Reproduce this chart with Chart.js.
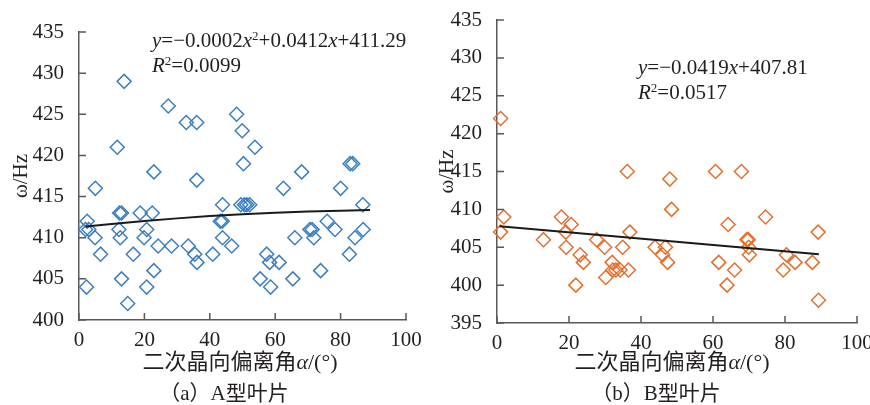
<!DOCTYPE html>
<html lang="zh-CN">
<head>
<meta charset="UTF-8">
<title>二次晶向偏离角与频率</title>
<script src="https://cdn.jsdelivr.net/npm/chart.js@4.4.0/dist/chart.umd.min.js"></script>
<style>
  body { margin:0; background:#fff; width:870px; height:405px; position:relative; overflow:hidden;
         font-family:"Liberation Serif","Noto Sans CJK SC",serif; color:#231f20; }
  canvas { position:absolute; top:0; }
  .note { position:absolute; font-size:21px; line-height:24px; white-space:nowrap; }
  .note sup { font-size:13px; vertical-align:7px; line-height:0; }
  .cap { position:absolute; font-size:21px; line-height:24px; white-space:nowrap; transform:translateX(-50%); }
  .xt { font-size:22px; }
</style>
</head>
<body>
  <canvas id="chartA" width="435" height="405" style="left:0"></canvas>
  <canvas id="chartB" width="435" height="405" style="left:435px"></canvas>

  <div class="note" style="left:152px;top:28px"><i>y</i>=−0.0002<i>x</i><sup>2</sup>+0.0412<i>x</i>+411.29</div>
  <div class="note" style="left:152px;top:53px"><i>R</i><sup>2</sup>=0.0099</div>
  <div class="note" style="left:638px;top:55px"><i>y</i>=−0.0419<i>x</i>+407.81</div>
  <div class="note" style="left:638px;top:80px"><i>R</i><sup>2</sup>=0.0517</div>

  <div class="cap xt" style="left:240px;top:350px">二次晶向偏离角<i>α</i>/(°)</div>
  <div class="cap" style="left:224px;top:381px">（a）A型叶片</div>
  <div class="cap xt" style="left:672px;top:350px">二次晶向偏离角<i>α</i>/(°)</div>
  <div class="cap" style="left:656px;top:381px">（b）B型叶片</div>

<script>
// A型叶片：偏离角 / 频率
const aAngle = [2.3, 2.5, 2.0, 3.0, 4.9, 5, 6.6, 11.7, 12.4, 13, 12.2, 12.6, 13, 13.8, 14.9, 16.6, 18.7,
  20.7, 19.9, 20.7, 22.4, 22.9, 22.9, 24.2, 27.3, 28.3, 32.8, 33.4, 35.4, 36.1, 36, 36, 40.9, 43.9,
  43.2, 43.8, 43.9, 46.7, 48.2, 49.9, 50.3, 49.5, 50.6, 51.3, 52.2, 53.8, 55.4, 57.4, 58.3, 58.6,
  61.2, 62.5, 65.4, 66, 68.1, 70.6, 71.3, 71.8, 73.9, 75.9, 78.3, 80, 82.7, 82.9, 83.7, 84.4, 86.8, 86.9];
const aFreq = [404, 412, 411, 411, 410, 416, 408, 421, 413, 413, 411, 410, 405, 429, 402, 408, 413,
  411, 410, 404, 413, 406, 418, 409, 426, 409, 424, 409, 408, 407, 424, 417, 408, 414,
  412, 412, 410, 409, 425, 423, 419, 414, 414, 414, 414, 421, 405, 408, 407, 404,
  407, 416, 405, 410, 418, 411, 411, 410, 406, 412, 411, 416, 408, 419, 419, 410, 414, 411];
// A型趋势线
const aFitX = [2, 10, 20, 30, 40, 50, 60, 70, 80, 89];
const aFitY = [411.37, 411.68, 412.03, 412.35, 412.63, 412.85, 413.04, 413.19, 413.29, 413.36];

// B型叶片
const bAngle = [1, 1, 1.9, 12.9, 17.9, 19.1, 19.2, 20.6, 21.9, 23.1, 24, 27.7, 29.9, 30.2, 32, 32.2,
  33, 34.2, 34.9, 36.2, 36.5, 36.9, 43.9, 46, 46.8, 47.4, 48, 48.5, 60.7, 61.6, 63.9, 64.2, 66,
  67.9, 69.4, 69.8, 69.9, 70.1, 74.6, 79.5, 80.4, 82.8, 87.6, 89.2, 89.3];
const bFreq = [422, 407, 409, 406, 409, 407, 405, 408, 400, 404, 403, 406, 405, 401, 403, 402,
  402, 402, 405, 415, 402, 407, 405, 404, 405, 403, 414, 410, 415, 403, 400, 408, 402,
  415, 406, 406, 405, 404, 409, 402, 404, 403, 403, 407, 398];
const bFitX = [0.7, 89.4];
const bFitY = [407.78, 404.06];

const xTicks = [0, 20, 40, 60, 80, 100];

const textColor = '#231f20';
const axisColor = '#595959';
const tickFont = { family: 'Liberation Serif', size: 21 };

// 刻度线朝内
const innerTicks = {
  id: 'innerTicks',
  afterDraw(chart) {
    const { ctx, chartArea: { left, bottom }, scales: { x, y } } = chart;
    ctx.save();
    ctx.strokeStyle = axisColor;
    ctx.lineWidth = 1.5;
    ctx.beginPath();
    x.ticks.forEach(t => {
      const px = x.getPixelForValue(t.value);
      ctx.moveTo(px, bottom); ctx.lineTo(px, bottom - 7);
    });
    y.ticks.forEach(t => {
      const py = y.getPixelForValue(t.value);
      ctx.moveTo(left, py); ctx.lineTo(left + 7, py);
    });
    ctx.stroke();
    ctx.restore();
  }
};

function makeChart(id, xs, ys, fx, fy, color, yMin, yMax, box) {
  return new Chart(document.getElementById(id), {
    type: 'scatter',
    data: {
      datasets: [
        {
          type: 'line',
          data: fx.map((v, i) => ({ x: v, y: fy[i] })),
          borderColor: '#1a1a1a',
          borderWidth: 2,
          pointRadius: 0,
          fill: false,
          order: 0
        },
        {
          data: xs.map((v, i) => ({ x: v, y: ys[i] })),
          pointStyle: 'rectRot',
          pointRadius: 7,
          borderColor: color,
          backgroundColor: 'transparent',
          borderWidth: 1.5,
          clip: false,
          order: 1
        }
      ]
    },
    options: {
      responsive: false,
      animation: false,
      layout: { padding: { top: box.top, right: box.right, left: 0, bottom: 0 } },
      plugins: { legend: { display: false }, tooltip: { enabled: false } },
      scales: {
        x: {
          type: 'linear', min: 0, max: 100,
          afterBuildTicks: s => { s.ticks = xTicks.map(v => ({ value: v })); },
          ticks: { font: tickFont, color: textColor, padding: 0, maxRotation: 0 },
          grid: { display: false },
          border: { color: axisColor, width: 1.5 },
          afterFit: s => { s.height = box.xH; s.paddingLeft = 0; s.paddingRight = 0; }
        },
        y: {
          type: 'linear', min: yMin, max: yMax,
          ticks: { stepSize: 5, font: tickFont, color: textColor, padding: 7 },
          grid: { display: false },
          border: { color: axisColor, width: 1.5 },
          title: { display: true, text: 'ω/Hz', color: textColor,
                   font: { family: 'Liberation Serif', size: 21 }, padding: { top: box.titlePad, bottom: 0 } },
          afterFit: s => { s.width = box.yW; s.paddingTop = 0; s.paddingBottom = 0; }
        }
      }
    },
    plugins: [innerTicks]
  });
}

makeChart('chartA', aAngle, aFreq, aFitX, aFitY, '#3c7fc0', 400, 435,
  { top: 32, right: 29, xH: 85, yW: 79, titlePad: 9 });
makeChart('chartB', bAngle, bFreq, bFitX, bFitY, '#e2702e', 395, 435,
  { top: 20, right: 13, xH: 82, yW: 62, titlePad: 0 });
</script>
</body>
</html>
